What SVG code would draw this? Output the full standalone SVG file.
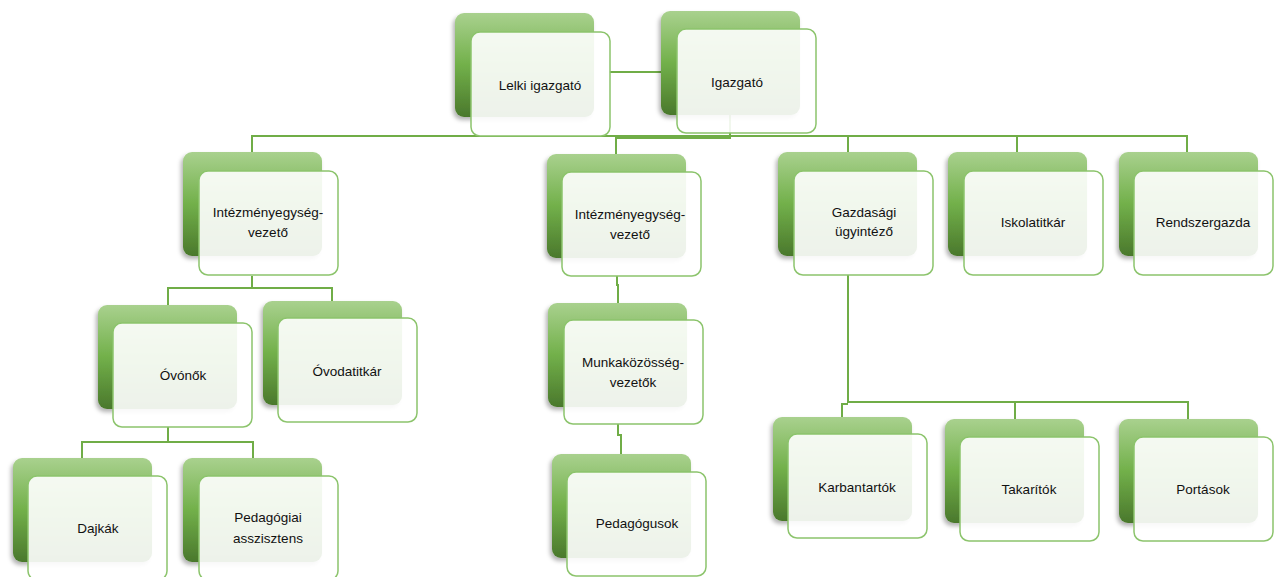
<svg xmlns="http://www.w3.org/2000/svg" width="1274" height="577" viewBox="0 0 1274 577">
<defs>
<linearGradient id="gb" x1="0" y1="0" x2="0" y2="1">
<stop offset="0" stop-color="#a9d18e"/>
<stop offset="0.5" stop-color="#72b04a"/>
<stop offset="1" stop-color="#4a782c"/>
</linearGradient>
<filter id="sh" x="-20%" y="-20%" width="140%" height="140%">
<feDropShadow dx="-2" dy="3" stdDeviation="2" flood-color="#000" flood-opacity="0.3"/>
</filter>
<style>
.back{fill:url(#gb);filter:url(#sh)}
.front{fill:#ffffff;fill-opacity:0.9;stroke:#8cc46c;stroke-width:1.5}
.lbl{font-family:"Liberation Sans",Arial,sans-serif;font-size:13.5px;fill:#111;text-anchor:middle}
.con{fill:none;stroke:#70ad47;stroke-width:2}
</style>
</defs>
<rect width="1274" height="577" fill="#ffffff"/>
<g id="connectors">
<path class="con" d="M609 72 H661"/>
<path class="con" d="M252 152 V136 H1187 V152"/>
<path class="con" d="M730 115 V138 H616 V154"/>
<path class="con" d="M848 136 V152 M1017 136 V152"/>
<path class="con" d="M252 276 V288 H332 V301 M252 288 H168 V305"/>
<path class="con" d="M168 427 V442 H82 V458 M168 442 H253 V458"/>
<path class="con" d="M617 276 V285 H618 V303 M618 424 V435 H621 V454"/>
<path class="con" d="M848 275 V402 H1188 V419 M1015 402 V419 M848 404 H842 V417"/>
</g>
<g id="lelki-igazgato"><rect class="back" x="455" y="13" width="139" height="104" rx="9"/><rect class="front" x="471" y="32" width="139" height="104" rx="9"/><text class="lbl" x="540" y="90">Lelki igazgató</text></g>
<g id="igazgato"><rect class="back" x="661" y="11" width="139" height="104" rx="9"/><rect class="front" x="677" y="29" width="139" height="104" rx="9"/><text class="lbl" x="737" y="87">Igazgató</text></g>
<g id="intezmeny1"><rect class="back" x="183" y="152" width="139" height="104" rx="9"/><rect class="front" x="199" y="171" width="139" height="104" rx="9"/><text class="lbl" x="268" y="217">Intézményegység-</text><text class="lbl" x="268" y="237">vezető</text></g>
<g id="intezmeny2"><rect class="back" x="547" y="154" width="139" height="104" rx="9"/><rect class="front" x="562" y="172" width="139" height="104" rx="9"/><text class="lbl" x="630" y="219">Intézményegység-</text><text class="lbl" x="630" y="239">vezető</text></g>
<g id="gazdasagi"><rect class="back" x="778" y="152" width="139" height="104" rx="9"/><rect class="front" x="794" y="171" width="139" height="104" rx="9"/><text class="lbl" x="864" y="217">Gazdasági</text><text class="lbl" x="864" y="236">ügyintéző</text></g>
<g id="iskolatitkar"><rect class="back" x="948" y="152" width="139" height="104" rx="9"/><rect class="front" x="964" y="171" width="139" height="104" rx="9"/><text class="lbl" x="1033" y="227">Iskolatitkár</text></g>
<g id="rendszergazda"><rect class="back" x="1119" y="152" width="139" height="104" rx="9"/><rect class="front" x="1134" y="171" width="139" height="104" rx="9"/><text class="lbl" x="1203" y="227">Rendszergazda</text></g>
<g id="ovonok"><rect class="back" x="98" y="305" width="139" height="104" rx="9"/><rect class="front" x="113" y="323" width="139" height="104" rx="9"/><text class="lbl" x="183" y="380">Óvónők</text></g>
<g id="ovodatitkar"><rect class="back" x="263" y="301" width="139" height="104" rx="9"/><rect class="front" x="278" y="318" width="139" height="104" rx="9"/><text class="lbl" x="347" y="376">Óvodatitkár</text></g>
<g id="munkakozosseg"><rect class="back" x="548" y="303" width="139" height="104" rx="9"/><rect class="front" x="564" y="320" width="139" height="104" rx="9"/><text class="lbl" x="633" y="367">Munkaközösség-</text><text class="lbl" x="633" y="387">vezetők</text></g>
<g id="dajkak"><rect class="back" x="13" y="458" width="139" height="104" rx="9"/><rect class="front" x="28" y="476" width="139" height="104" rx="9"/><text class="lbl" x="98" y="533">Dajkák</text></g>
<g id="ped-asszisztens"><rect class="back" x="183" y="458" width="139" height="104" rx="9"/><rect class="front" x="199" y="476" width="139" height="104" rx="9"/><text class="lbl" x="268" y="522">Pedagógiai</text><text class="lbl" x="268" y="543">asszisztens</text></g>
<g id="pedagogusok"><rect class="back" x="552" y="454" width="139" height="104" rx="9"/><rect class="front" x="567" y="472" width="139" height="104" rx="9"/><text class="lbl" x="637" y="528">Pedagógusok</text></g>
<g id="karbantartok"><rect class="back" x="773" y="417" width="139" height="104" rx="9"/><rect class="front" x="788" y="434" width="139" height="104" rx="9"/><text class="lbl" x="857" y="492">Karbantartók</text></g>
<g id="takaritok"><rect class="back" x="945" y="419" width="139" height="104" rx="9"/><rect class="front" x="960" y="437" width="139" height="104" rx="9"/><text class="lbl" x="1029" y="494">Takarítók</text></g>
<g id="portasok"><rect class="back" x="1119" y="419" width="139" height="104" rx="9"/><rect class="front" x="1134" y="437" width="139" height="104" rx="9"/><text class="lbl" x="1203" y="494">Portások</text></g>
</svg>
